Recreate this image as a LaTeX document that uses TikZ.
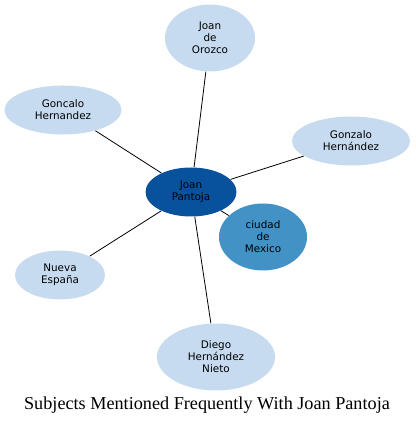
\documentclass[tikz,border=0pt]{standalone}
\usepackage{fontspec}
\setmainfont{Liberation Serif}
\newfontfamily\nodefont{DejaVu Sans}
\usepackage{xcolor}
\usepackage{tikz}
\usetikzlibrary{shapes.geometric}
\definecolor{hubblue}{HTML}{08519C}
\definecolor{midblue}{HTML}{4292C6}
\definecolor{paleblue}{HTML}{C6DBEF}
\tikzset{main/.style={ellipse, fill=paleblue, inner sep=0pt, align=center,
    font=\nodefont\fontsize{10.4}{12}\selectfont, text=black},
  twoline/.style={minimum height=49pt},
  threeline/.style={minimum height=67pt}}

\begin{document}
\begin{tikzpicture}[x=1pt, y=1pt, line width=0.8pt]
		\useasboundingbox (0,0) rectangle (415,427);
		\node[main, twoline, minimum width=91pt, fill=hubblue] (P) at (191,235) {Joan\\Pantoja};
		\node[main, threeline, minimum width=90pt] (O) at (210,389) {Joan\\de\\Orozco};
		\node[main, twoline, minimum width=117pt] (G) at (63,317) {Goncalo\\Hernandez};
		\node[main, twoline, minimum width=118pt] (Z) at (351,286) {Gonzalo\\Hernández};
		\node[main, threeline, minimum width=88pt, fill=midblue] (M) at (263,190) {ciudad\\de\\Mexico};
		\node[main, twoline, minimum width=90pt] (N) at (60,152) {Nueva\\España};
		\node[main, threeline, minimum width=118pt] (D) at (216,70) {Diego\\Hernández\\Nieto};
		\node (T) at (207,22) {\fontsize{18.2}{21}\selectfont Subjects Mentioned Frequently With Joan Pantoja};

		\draw (P) -- (O);
		\draw (P) -- (G);
		\draw (P) -- (Z);
		\draw (P) -- (M);
		\draw (P) -- (N);
		\draw (P) -- (D);
	\end{tikzpicture}
\end{document}
